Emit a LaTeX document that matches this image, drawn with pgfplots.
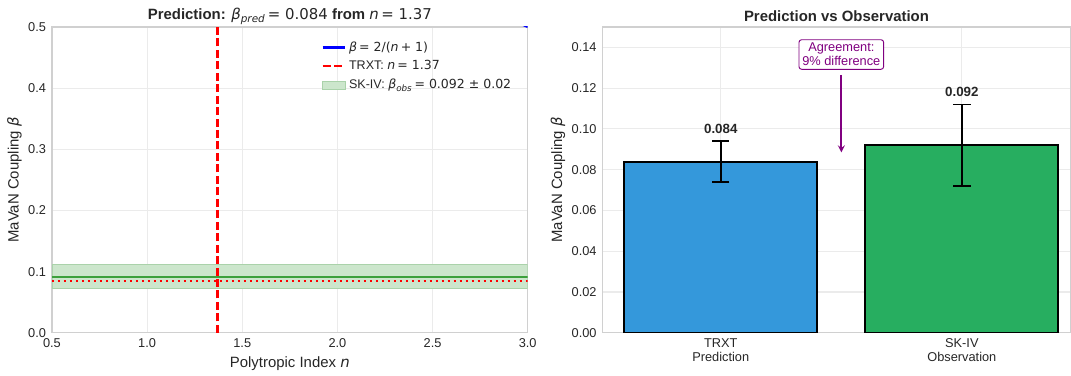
\documentclass[border=0pt]{standalone}
\usepackage{pgfplots}
\pgfplotsset{compat=1.18}
\usepackage{fontspec}
\setmainfont{Liberation Sans}
\newfontfamily\dv{DejaVu Sans}
\newcommand{\mi}[1]{{\dv\itshape #1}}
\newcommand{\mr}[1]{{\dv #1}}
\definecolor{txt}{HTML}{262626}
\definecolor{gridc}{HTML}{EBEBEB}
\definecolor{spine}{HTML}{D0D0D0}
\definecolor{mplblue}{HTML}{0000FF}
\definecolor{mplred}{HTML}{FF0000}
\definecolor{bandfill}{RGB}{204,230,204}
\definecolor{bandedge}{RGB}{170,210,170}
\definecolor{gline}{RGB}{60,160,60}
\definecolor{barblue}{HTML}{3498DB}
\definecolor{bargreen}{HTML}{27AE60}
\definecolor{mplpurple}{HTML}{800080}
\pgfplotsset{
  common/.style={
    scale only axis,
    anchor=south west,
    /pgf/number format/assume math mode=true,
    grid=major,
    grid style={color=gridc, line width=0.8pt},
    axis line style={color=spine, line width=1pt},
    major tick length=0pt,
    tick label style={font=\fontsize{9.6}{11}\selectfont, color=txt},
    label style={font=\fontsize{11.2}{13}\selectfont, color=txt},
    title style={font=\fontsize{11.2}{13}\selectfont, color=txt},
    xticklabel style={yshift=-1pt},
    yticklabel style={xshift=-1pt},
  }
}
\begin{document}
\begin{tikzpicture}
\path (0,0) rectangle (803.25pt,279pt);
% ---------- left panel ----------
\begin{axis}[common,
  at={(39pt,29.25pt)}, width=357pt, height=229.5pt,
  xmin=0.5, xmax=3.0, ymin=0, ymax=0.5,
  xtick={0.5,1.0,1.5,2.0,2.5,3.0},
  ytick={0,0.1,0.2,0.3,0.4,0.5},
  xticklabel style={/pgf/number format/.cd, fixed, fixed zerofill, precision=1},
  yticklabel style={/pgf/number format/.cd, fixed, fixed zerofill, precision=1},
  xlabel={Polytropic Index \mi{n}},
  ylabel={MaVaN Coupling \mi{β}},
  xlabel style={yshift=0pt},
  ylabel style={yshift=-2pt},
  title style={yshift=-7.5pt},
  title={\textbf{Prediction:} \mi{β}\textsubscript{\mi{pred}}\,\mr{= 0.084} \textbf{from} \mi{n}\,\mr{= 1.37}},
  legend cell align=left,
  legend style={draw=none, fill=none, at={(0.98,0.97)}, anchor=north east,
    font=\fontsize{9.4}{11}\selectfont, text=txt, row sep=1.5pt},
]
\addplot[forget plot, fill=bandfill, draw=bandedge, line width=0.6pt]
  coordinates {(0.5,0.072) (3.0,0.072) (3.0,0.112) (0.5,0.112) (0.5,0.072)};
\addplot[forget plot, gline, line width=1.5pt]
  coordinates {(0.5,0.092) (3.0,0.092)};
\addplot[forget plot, mplred, line width=1.6pt, dash pattern=on 1.6pt off 2.9pt]
  coordinates {(0.5,0.084) (3.0,0.084)};
\addplot[forget plot, mplred, line width=1.6pt, dash pattern=on 6pt off 2.6pt]
  coordinates {(1.37,0) (1.37,0.5)};
\addplot[forget plot, mplblue, line width=1.6pt]
  coordinates {(0.5,1.3333) (0.75,1.1429) (1.0,1.0) (1.25,0.8889) (1.5,0.8)
  (1.75,0.7273) (2.0,0.6667) (2.25,0.6154) (2.5,0.5714) (2.75,0.5333) (3.0,0.5)};
\addlegendimage{mplblue, line width=1.6pt}
\addlegendentry{\mi{β}\,\mr{= 2/(}\mi{n}\,\mr{+ 1)}}
\addlegendimage{mplred, line width=1.6pt, dash pattern=on 6pt off 2.6pt}
\addlegendentry{TRXT: \mi{n}\,\mr{= 1.37}}
\addlegendimage{area legend, fill=bandfill, draw=bandedge}
\addlegendentry{SK-IV: \mi{β}\textsubscript{\mi{obs}}\,\mr{= 0.092 ± 0.02}}
\end{axis}
% ---------- right panel ----------
\begin{axis}[common,
  at={(452.25pt,29.25pt)}, width=351pt, height=229.5pt,
  xmin=-0.49, xmax=1.45, ymin=0, ymax=0.15,
  xtick={0,1},
  xticklabels={TRXT\\Prediction, SK-IV\\Observation},
  xticklabel style={align=center, font=\fontsize{9.6}{10.5}\selectfont},
  ytick={0,0.02,0.04,0.06,0.08,0.10,0.12,0.14},
  yticklabel style={/pgf/number format/.cd, fixed, fixed zerofill, precision=2},
  ylabel={MaVaN Coupling \mi{β}},
  ylabel style={yshift=-2pt},
  title style={yshift=-5.5pt},
  title={\textbf{Prediction vs Observation}},
]
\addplot[ybar, bar width=0.8, fill=barblue, draw=black, line width=1.5pt,
  error bars/.cd, y dir=both, y explicit,
  error bar style={line width=1.2pt, black},
  error mark options={rotate=90, mark size=6.5pt, line width=1.2pt, black}]
  coordinates {(0,0.084) +- (0,0.01)};
\addplot[ybar, bar width=0.8, fill=bargreen, draw=black, line width=1.5pt,
  error bars/.cd, y dir=both, y explicit,
  error bar style={line width=1.2pt, black},
  error mark options={rotate=90, mark size=6.5pt, line width=1.2pt, black}]
  coordinates {(1,0.092) +- (0,0.02)};
\addplot[draw=none, mark=none, nodes near coords, point meta=explicit symbolic,
  nodes near coords style={anchor=south, font=\fontsize{10}{11}\selectfont\bfseries, text=txt}]
  coordinates {(0,0.0955)[0.084] (1,0.1135)[0.092]};
\draw[-stealth, mplpurple, line width=1.3pt] (axis cs:0.5,0.1265) -- (axis cs:0.5,0.0885);
\node[draw=mplpurple, fill=white, rounded corners=2pt, text=mplpurple, align=center,
  font=\fontsize{9.6}{10.5}\selectfont, inner sep=2.5pt, line width=0.7pt]
  at (axis cs:0.5,0.1365) {Agreement:\\9\% difference};
\end{axis}
\end{tikzpicture}
\end{document}
